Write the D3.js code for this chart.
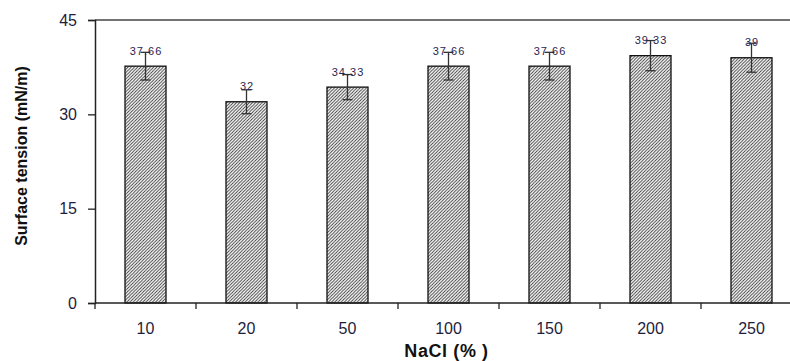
<!DOCTYPE html>
<html>
<head>
<meta charset="utf-8">
<script src="https://cdn.jsdelivr.net/npm/d3@7"></script>
<style>
html,body{margin:0;padding:0;background:#fff;}
svg{display:block;}
text{font-family:"Liberation Sans",Arial,sans-serif;}
</style>
</head>
<body>
<svg id="chart" width="790" height="361"></svg>
<script>
const categories = ["10","20","50","100","150","200","250"];
const values = [37.66, 32, 34.33, 37.66, 37.66, 39.33, 39];
const errors = [2.2, 1.9, 2.0, 2.2, 2.2, 2.4, 2.3];
const valueLabels = ["37.66","32","34.33","37.66","37.66","39.33","39"];
const yTicks = [0, 15, 30, 45];
const xTitle = "NaCl (% )";
const yTitle = "Surface tension (mN/m)";

(function(){
const svg = d3.select("#chart");
const pL = 95, pR = 802, pT = 20, pB = 303;
const ink = "#222";

const defs = svg.append("defs");
const pat = defs.append("pattern").attr("id","hatch").attr("patternUnits","userSpaceOnUse")
  .attr("width",3.2).attr("height",3.2);
pat.append("rect").attr("width",3.2).attr("height",3.2).attr("fill","#fff");
pat.append("path").attr("d","M-0.8,0.8 l1.6,-1.6 M0,3.2 l3.2,-3.2 M2.4,4 l1.6,-1.6")
  .attr("stroke","#333").attr("stroke-width",0.9);

const x = d3.scaleBand().domain(categories).range([pL, pR])
  .paddingInner(0.594).paddingOuter(0.297);
const y = d3.scaleLinear().domain([0, 45]).range([pB, pT]);

// bars
svg.append("g").selectAll("rect").data(categories).join("rect")
  .attr("x", d => x(d)).attr("width", x.bandwidth())
  .attr("y", (d,i) => y(values[i])).attr("height", (d,i) => y(0) - y(values[i]))
  .attr("fill","url(#hatch)").attr("stroke","#111").attr("stroke-width",1.3);

// error bars
const eg = svg.append("g").attr("stroke","#333").attr("stroke-width",1.3);
categories.forEach((c,i) => {
  const cx = x(c) + x.bandwidth()/2;
  const y1 = y(values[i] + errors[i]), y2 = y(values[i] - errors[i]);
  eg.append("line").attr("x1",cx).attr("x2",cx).attr("y1",y1).attr("y2",y2);
  eg.append("line").attr("x1",cx-5).attr("x2",cx+5).attr("y1",y1).attr("y2",y1);
  eg.append("line").attr("x1",cx-5).attr("x2",cx+5).attr("y1",y2).attr("y2",y2);
});

// value labels
svg.append("g").selectAll("text").data(categories).join("text")
  .attr("x", d => x(d) + x.bandwidth()/2 + 0.5)
  .attr("y", (d,i) => y(values[i]) - 11.5)
  .attr("text-anchor","middle").attr("font-size",11).attr("letter-spacing","1px")
  .attr("fill","#2a2450")
  .text((d,i) => valueLabels[i]);

// top frame line
svg.append("line").attr("x1",pL).attr("x2",pR).attr("y1",pT).attr("y2",pT)
  .attr("stroke","#444").attr("stroke-width",1.5);

// y axis
const yAxis = d3.axisLeft(y).tickValues(yTicks).tickSize(7).tickPadding(11).tickFormat(d3.format("d"));
const ga = svg.append("g").attr("transform",`translate(${pL},0)`).call(yAxis);
ga.select(".domain").attr("stroke",ink).attr("stroke-width",1.5);
ga.selectAll(".tick line").attr("stroke",ink).attr("stroke-width",1.3);
ga.selectAll(".tick text").attr("font-size",16).attr("fill","#1e1e3c")
  .attr("font-family","'Liberation Sans',Arial,sans-serif");

// x axis
const xb = svg.append("g");
xb.append("line").attr("x1",pL).attr("x2",pR).attr("y1",pB).attr("y2",pB)
  .attr("stroke",ink).attr("stroke-width",1.5);
const step = x.step();
categories.forEach((c,i) => {
  const bx = x(c) - (step - x.bandwidth())/2;
  xb.append("line").attr("x1",bx).attr("x2",bx).attr("y1",pB).attr("y2",pB+6)
    .attr("stroke",ink).attr("stroke-width",1.3);
});
xb.selectAll("text").data(categories).join("text")
  .attr("x", d => x(d) + x.bandwidth()/2)
  .attr("y", 334).attr("text-anchor","middle").attr("font-size",16).attr("fill","#1e1e3c")
  .text(d => d);

// titles
svg.append("text").attr("x",(pL+pR)/2 - 2).attr("y",357).attr("text-anchor","middle")
  .attr("font-size",18).attr("font-weight","bold").attr("letter-spacing","0.6px")
  .attr("fill","#111").text(xTitle);
svg.append("text").attr("transform","translate(27,156) rotate(-90)").attr("text-anchor","middle")
  .attr("font-size",16).attr("font-weight","bold").attr("fill","#111").text(yTitle);
})();
</script>
</body>
</html>
